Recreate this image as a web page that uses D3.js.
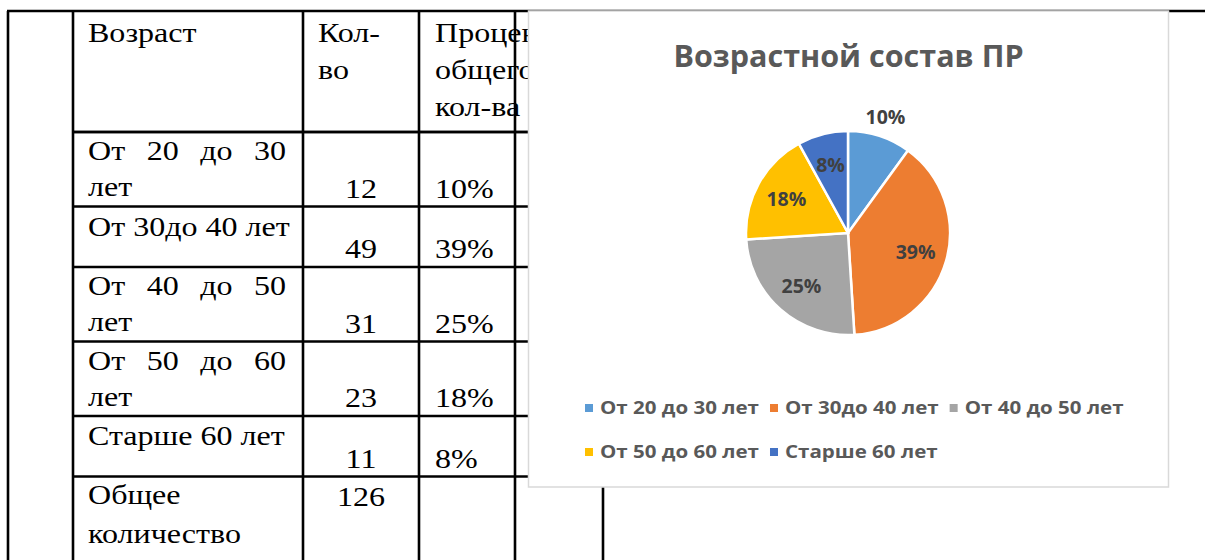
<!DOCTYPE html>
<html>
<head>
<meta charset="utf-8">
<script src="https://cdn.jsdelivr.net/npm/d3@7"></script>
<style>
  body { margin: 0; background: #fff; }
  svg { display: block; }
  .cell { font-family: "Liberation Serif", "Times New Roman", serif; font-size: 26.7px; fill: #000; }
  .chart text { font-family: "Open Sans", sans-serif; font-weight: bold; }
</style>
</head>
<body>
<svg id="page" width="1205" height="560"></svg>
<script>
// Table / chart data
const ageGroups = ["От 20 до 30 лет", "От 30до 40 лет", "От 40 до 50 лет", "От 50 до 60 лет", "Старше 60 лет"];
const counts = [12, 49, 31, 23, 11];
const percents = [10, 39, 25, 18, 8];
const totalLabel = "Общее количество";
const totalCount = 126;
const headerAge = ["Возраст"];
const headerCount = ["Кол-", "во"];
const headerPct = ["Процент от", "общего", "кол-ва"];
const chartTitle = "Возрастной состав ПР";
const sliceColors = ["#5B9BD5", "#ED7D31", "#A5A5A5", "#FFC000", "#4472C4"];

const svg = d3.select("#page");
svg.append("rect").attr("width", 1205).attr("height", 560).attr("fill", "#fff");

// ---- table ----
const table = svg.append("g");
const colX = [8, 73, 303, 419, 515, 603];
const tableTop = 11;
const headerH = 121;
const ageLeft = 88, ageWidth = 198;
const countMid = (colX[2] + colX[3]) / 2;
const pctLeft = 435;
const sx = 1.2; // the document font is drawn wide

function cellText(x, y, str, anchor) {
  return table.append("text").attr("class", "cell")
    .attr("transform", `translate(${x},${y}) scale(${sx},1)`)
    .attr("text-anchor", anchor || "start")
    .text(str);
}

function measure(str) {
  const probe = cellText(0, 0, str);
  const w = probe.node().getComputedTextLength() * sx;
  probe.remove();
  return w;
}

function wrap(label) {
  if (measure(label) <= ageWidth + 5) return [label];
  const words = label.split(" ");
  return [words.slice(0, -1).join(" "), words[words.length - 1]];
}

// justified line: spread the words over the cell width
function justified(x, y, line) {
  const words = line.split(" ");
  if (words.length < 2) { cellText(x, y, line); return; }
  const ws = words.map(measure);
  const gap = (ageWidth - d3.sum(ws)) / (words.length - 1);
  let px = x;
  words.forEach((w, i) => { cellText(px, y, w); px += ws[i] + gap; });
}

// header
headerAge.forEach((t, i) => cellText(ageLeft, 42 + i * 37, t));
headerCount.forEach((t, i) => cellText(318, 42 + i * 37, t));
headerPct.forEach((t, i) => cellText(pctLeft, 42 + i * 37, t));

// data rows
const rowTops = [];
let y = tableTop + headerH;
ageGroups.forEach((g, i) => {
  const lines = wrap(g);
  const h = lines.length > 1 ? 74.5 : 60.5;
  rowTops.push(y);
  if (lines.length > 1) {
    justified(ageLeft, y + 28, lines[0]);
    cellText(ageLeft, y + 64, lines[1]);
  } else {
    cellText(ageLeft, y + 29, lines[0]);
  }
  cellText(countMid, y + h - 9, counts[i], "middle");
  cellText(pctLeft, y + h - 9, percents[i] + "%");
  y += h;
});
rowTops.push(y);

// total row
wrap(totalLabel).forEach((line, i) => cellText(ageLeft, y + 27 + i * 39, line));
cellText(countMid, y + 29, totalCount, "middle");

// grid lines
const lineW = 2.6;
table.append("line").attr("x1", colX[0] - 1).attr("x2", 1205).attr("y1", tableTop).attr("y2", tableTop)
  .attr("stroke", "#000").attr("stroke-width", lineW);
[tableTop + headerH, ...rowTops].forEach(ry => {
  table.append("line").attr("x1", colX[1]).attr("x2", colX[5]).attr("y1", ry).attr("y2", ry)
    .attr("stroke", "#000").attr("stroke-width", lineW);
});
colX.forEach(cx => {
  table.append("line").attr("x1", cx).attr("x2", cx).attr("y1", tableTop).attr("y2", 560)
    .attr("stroke", "#000").attr("stroke-width", lineW);
});

// ---- chart ----
const chart = svg.append("g").attr("class", "chart");
const box = { x: 528.5, y: 11, w: 640, h: 476 };
chart.append("rect")
  .attr("x", box.x).attr("y", box.y).attr("width", box.w).attr("height", box.h)
  .attr("fill", "#fff").attr("stroke", "#d9d9d9").attr("stroke-width", 1.5);

chart.append("text")
  .attr("x", box.x + box.w / 2).attr("y", 67)
  .attr("text-anchor", "middle").attr("font-size", 30.5).attr("fill", "#595959")
  .text(chartTitle);

const cx = 848, cy = 233, R = 102;
const color = d3.scaleOrdinal().domain(ageGroups).range(sliceColors);
const pie = d3.pie().sort(null).value(d => d.v);
const arcs = pie(ageGroups.map((g, i) => ({ g, v: percents[i] })));
const arc = d3.arc().innerRadius(0).outerRadius(R);
const pieG = chart.append("g").attr("transform", `translate(${cx},${cy})`);

pieG.selectAll("path")
  .data(arcs)
  .enter().append("path")
  .attr("d", arc)
  .attr("fill", d => color(d.data.g))
  .attr("stroke", "#fff")
  .attr("stroke-width", 2.5);

const outsideLabels = new Set([0]);
const inArc = d3.arc().innerRadius(R * 0.69).outerRadius(R * 0.69);
const outArc = d3.arc().innerRadius(R * 1.19).outerRadius(R * 1.19);
pieG.selectAll(".lbl")
  .data(arcs)
  .enter().append("text")
  .attr("class", "lbl")
  .attr("transform", d => `translate(${(outsideLabels.has(d.index) ? outArc : inArc).centroid(d)})`)
  .attr("text-anchor", "middle")
  .attr("dy", "0.35em")
  .attr("font-size", 19.5)
  .attr("fill", "#404040")
  .text(d => d.data.v + "%");

// legend: 3 columns grid
const legend = chart.append("g");
const legCols = 3, legLeft = 585, legRows = [408, 452];
const legFont = 18, legSx = 1.14;
const probeW = t => {
  const p = legend.append("text").attr("font-size", legFont).text(t);
  const w = p.node().getComputedTextLength() * legSx;
  p.remove();
  return w;
};
const widths = ageGroups.map(probeW);
const colStart = [legLeft];
for (let c = 1; c < legCols; c++) {
  const colMax = d3.max(widths.filter((_, i) => i % legCols === c - 1));
  colStart.push(colStart[c - 1] + 15 + colMax + 11);
}
ageGroups.forEach((g, i) => {
  const lx = colStart[i % legCols];
  const ly = legRows[Math.floor(i / legCols)];
  legend.append("rect").attr("x", lx).attr("y", ly - 4).attr("width", 8).attr("height", 8).attr("fill", color(g));
  legend.append("text")
    .attr("transform", `translate(${lx + 15},${ly}) scale(${legSx},1)`)
    .attr("dy", "0.35em")
    .attr("font-size", legFont).attr("fill", "#595959").text(g);
});
</script>
</body>
</html>
